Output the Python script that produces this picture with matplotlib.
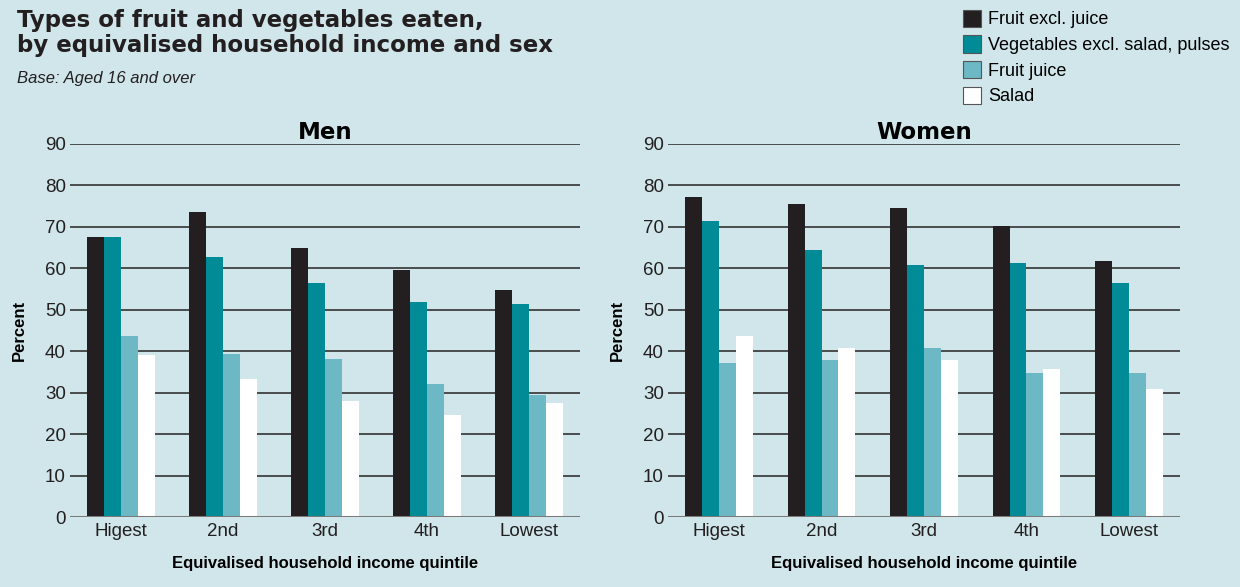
import matplotlib
matplotlib.use("Agg")
import matplotlib.pyplot as plt
import numpy as np
from matplotlib.patches import Patch

plt.rcParams['font.family'] = ['Liberation Sans', 'DejaVu Sans']

quintiles = ["Higest", "2nd", "3rd", "4th", "Lowest"]
series = ["Fruit excl. juice", "Vegetables excl. salad, pulses", "Fruit juice", "Salad"]
colors = ["#231f20", "#008b96", "#6cb8c4", "#ffffff"]

men_fruit = [67.5, 73.6, 64.9, 59.6, 54.8]
men_veg = [67.5, 62.7, 56.4, 51.9, 51.4]
men_juice = [43.6, 39.3, 38.1, 32.0, 29.4]
men_salad = [39.0, 33.3, 27.9, 24.6, 27.5]

women_fruit = [77.2, 75.5, 74.6, 70.2, 61.8]
women_veg = [71.4, 64.4, 60.8, 61.3, 56.4]
women_juice = [37.1, 37.8, 40.7, 34.7, 34.7]
women_salad = [43.6, 40.7, 37.8, 35.7, 30.8]

yticks = [0, 10, 20, 30, 40, 50, 60, 70, 80, 90]

bg = "#d0e6ea"
heavy = ['DejaVu Sans']
fig = plt.figure(figsize=(12.4, 5.87), dpi=100, facecolor=bg)

W, H = 1240, 587
def axes_px(x0, x1, y0, y1):
    return fig.add_axes([x0 / W, 1 - y1 / H, (x1 - x0) / W, (y1 - y0) / H])

ax_men = axes_px(70, 580, 144, 517)
ax_women = axes_px(668, 1180, 144, 517)

bw = 0.165
x = np.arange(len(quintiles))

def draw(ax, data, title):
    ax.set_facecolor(bg)
    for yv in yticks[1:]:
        ax.axhline(yv, color="#333333", lw=1.2, zorder=1)
    for i, (vals, c) in enumerate(zip(data, colors)):
        ax.bar(x + (i - 1.5) * bw, vals, width=bw, color=c, zorder=2, linewidth=0)
    ax.axhline(0, color="#7a7a7a", lw=2.2, zorder=3)
    ax.set_xlim(-0.5, 4.5)
    ax.set_ylim(0, 90)
    ax.set_yticks(yticks)
    ax.set_yticklabels([str(v) for v in yticks], fontsize=13.5, color="#231f20")
    ax.set_xticks(x)
    ax.set_xticklabels(quintiles, fontsize=13.5, color="#231f20")
    ax.tick_params(length=0, pad=4)
    ax.tick_params(axis='y', pad=3)
    for s in ax.spines.values():
        s.set_visible(False)
    ax.set_ylabel("Percent", fontsize=12, fontweight="bold", labelpad=13)
    ax.set_xlabel("Equivalised household income quintile", fontsize=12,
                  fontweight="bold", labelpad=12)
    ax.set_title(title, fontsize=16.5, fontweight="bold", family=heavy, pad=3)

draw(ax_men, [men_fruit, men_veg, men_juice, men_salad], "Men")
draw(ax_women, [women_fruit, women_veg, women_juice, women_salad], "Women")

fig.text(17 / W, 1 - 9 / H, "Types of fruit and vegetables eaten,\nby equivalised household income and sex",
         fontsize=16.5, fontweight="bold", family=heavy, va="top", ha="left",
         linespacing=1.12, color="#231f20")
fig.text(17 / W, 1 - 78 / H, "Base: Aged 16 and over", fontsize=12, style="italic",
         va="center", ha="left", color="#231f20")

handles = [Patch(facecolor=c, edgecolor="#555555", linewidth=0.8) for c in colors]
fig.legend(handles, series, loc="upper left", bbox_to_anchor=(950 / W, 1 + 3 / H),
           frameon=False, fontsize=13, handlelength=1.0, handleheight=1.1,
           handletextpad=0.4, labelspacing=0.38, borderpad=0.2)

fig.savefig("out.png", dpi=100, facecolor=bg)
